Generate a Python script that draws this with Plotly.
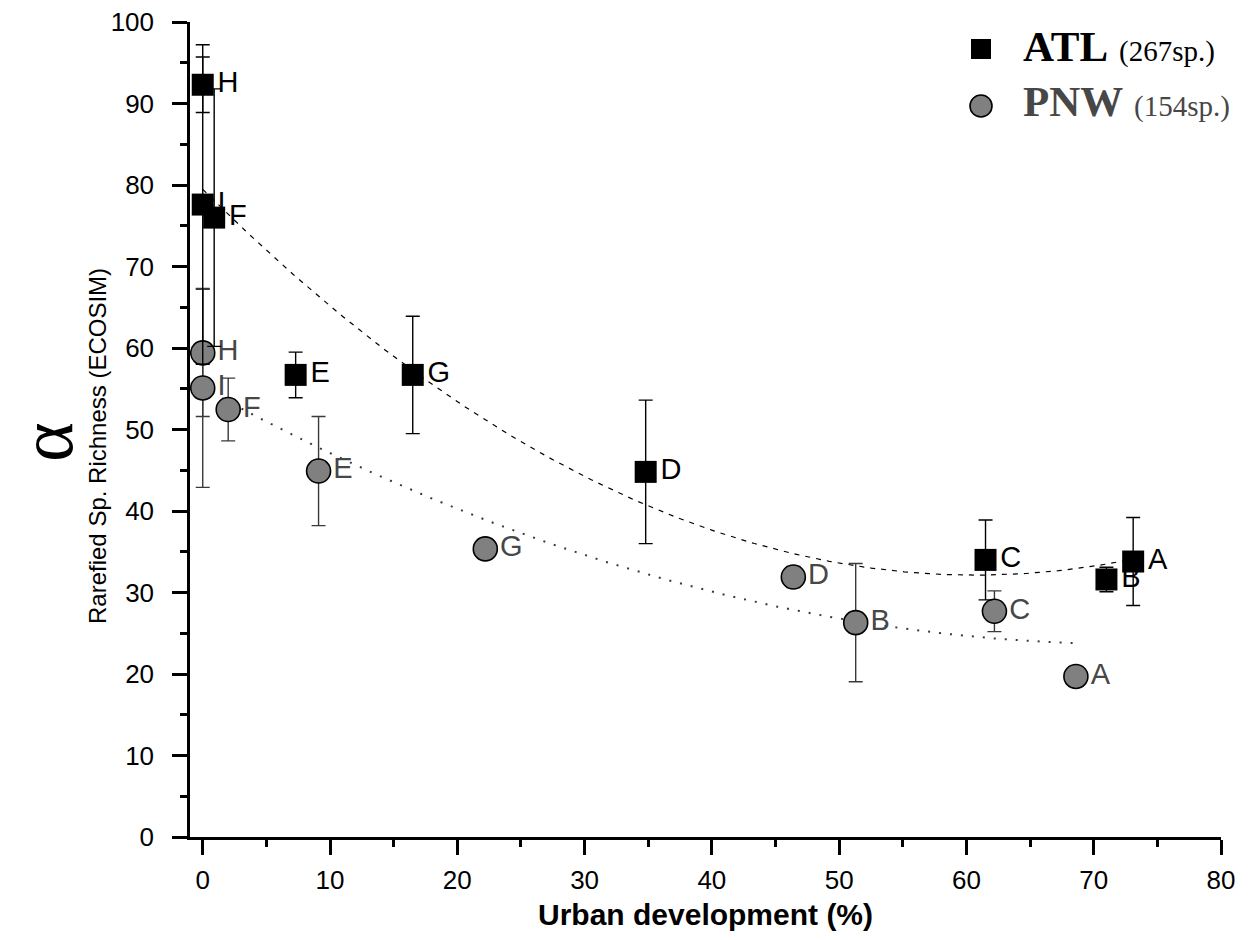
import numpy as np
import plotly.graph_objects as go

# ---------------- data ----------------
atl_labels = ["H", "I", "F", "E", "G", "D", "C", "B", "A"]
atl_x = [0.0, 0.0, 0.9, 7.3, 16.5, 34.8, 61.5, 71.0, 73.1]
atl_y = [92.3, 77.6, 76.0, 56.7, 56.7, 44.8, 34.0, 31.6, 33.8]
atl_err = [3.4, 19.6, 15.8, 2.8, 7.2, 8.8, 4.9, 1.5, 5.4]

pnw_labels = ["H", "I", "F", "E", "G", "D", "B", "C", "A"]
pnw_x = [0.0, 0.0, 2.0, 9.1, 22.2, 46.4, 51.3, 62.2, 68.6]
pnw_y = [59.4, 55.1, 52.45, 44.9, 35.35, 31.9, 26.3, 27.7, 19.7]
pnw_err = [7.8, 12.2, 3.85, 6.7, 0.6, 1.3, 7.25, 2.5, 0.5]

x_ticks = [0, 10, 20, 30, 40, 50, 60, 70, 80]
y_ticks = [0, 10, 20, 30, 40, 50, 60, 70, 80, 90, 100]

legend_names = ["ATL", "PNW"]
legend_counts = ["(267sp.)", "(154sp.)"]

ATL_COLOR = "#000000"
PNW_FILL = "#808080"
PNW_TEXT = "#474747"

# quadratic trend lines fitted from the data
def quad_fit(xs, ys):
    c = np.polyfit(xs, ys, 2)
    xx = np.linspace(min(xs), max(xs), 200)
    return xx, np.polyval(c, xx)

atl_fx, atl_fy = quad_fit(atl_x, atl_y)
pnw_fx, pnw_fy = quad_fit(pnw_x, pnw_y)

fig = go.Figure()

# trend lines
fig.add_trace(go.Scatter(x=atl_fx, y=atl_fy, mode="lines",
                         line=dict(color="#000000", width=1.2, dash="5px,6px"),
                         showlegend=False, hoverinfo="skip"))
fig.add_trace(go.Scatter(x=pnw_fx, y=pnw_fy, mode="lines",
                         line=dict(color="#3a3a3a", width=2, dash="2px,9px"),
                         showlegend=False, hoverinfo="skip"))

# point labels (drawn under the markers)
fig.add_trace(go.Scatter(x=atl_x, y=atl_y, mode="markers+text", text=atl_labels,
                         textposition="middle right",
                         textfont=dict(family="Liberation Sans", size=29, color=ATL_COLOR),
                         marker=dict(size=22, opacity=0),
                         showlegend=False, hoverinfo="skip"))
fig.add_trace(go.Scatter(x=pnw_x, y=pnw_y, mode="markers+text", text=pnw_labels,
                         textposition="middle right",
                         textfont=dict(family="Liberation Sans", size=29, color=PNW_TEXT),
                         marker=dict(size=22, opacity=0),
                         showlegend=False, hoverinfo="skip"))

# PNW points
fig.add_trace(go.Scatter(x=pnw_x, y=pnw_y, mode="markers", name="PNW",
                         marker=dict(symbol="circle", size=24, color=PNW_FILL,
                                     line=dict(color="#000000", width=1.6)),
                         error_y=dict(type="data", array=pnw_err, visible=True,
                                      color="#3a3a3a", thickness=1.4, width=7),
                         showlegend=False))
# ATL points
fig.add_trace(go.Scatter(x=atl_x, y=atl_y, mode="markers", name="ATL",
                         marker=dict(symbol="square", size=22, color=ATL_COLOR,
                                     line=dict(color="#000000", width=0)),
                         error_y=dict(type="data", array=atl_err, visible=True,
                                      color="#000000", thickness=1.4, width=7),
                         showlegend=False))

L, R, T, B = 190, 30, 22, 103
W, H = 1251, 940

axis_common = dict(showline=True, linecolor="#000000", linewidth=2.5,
                   ticks="outside", ticklen=15, tickwidth=2.5, tickcolor="#000000",
                   showgrid=False, zeroline=False, mirror=False, automargin=False,
                   tickfont=dict(family="Liberation Sans", size=26, color="#000000"))

fig.update_xaxes(range=[-1, 80], tickmode="array", tickvals=x_ticks,
                 ticktext=[str(v) for v in x_ticks],
                 minor=dict(ticks="outside", ticklen=7, tickwidth=2.5,
                            tickcolor="#000000", dtick=5, tick0=0),
                 ticklabelstandoff=3, **axis_common)
fig.update_yaxes(range=[0, 100], tickmode="array", tickvals=y_ticks,
                 ticktext=[str(v) for v in y_ticks],
                 minor=dict(ticks="outside", ticklen=7, tickwidth=2.5,
                            tickcolor="#000000", dtick=5, tick0=0),
                 ticklabelstandoff=13, **axis_common)

pw = W - L - R
ph = H - T - B
def px(xp):
    return (xp - L) / pw
def py(yp):
    return (H - B - yp) / ph

annotations = [
    dict(text="<b>Urban development (%)</b>", x=0.5, y=py(915), xref="paper", yref="paper",
         xanchor="center", yanchor="middle", showarrow=False,
         font=dict(family="Liberation Sans", size=30, color="#000000")),
    dict(text="Rarefied Sp. Richness (ECOSIM)", x=px(97), y=py(446), xref="paper", yref="paper",
         xanchor="center", yanchor="middle", showarrow=False, textangle=-90,
         font=dict(family="Liberation Sans", size=24, color="#000000")),
    dict(text="α", x=px(2), y=py(442), xref="paper", yref="paper",
         xanchor="left", yanchor="middle", showarrow=False, textangle=-90,
         font=dict(family="Liberation Serif", size=76, color="#000000")),
]
legend_colors = [ATL_COLOR, PNW_TEXT]
legend_rows = [46, 102]
for name, cnt, col, yy in zip(legend_names, legend_counts, legend_colors, legend_rows):
    annotations.append(dict(
        text=f"<b>{name}</b> <span style='font-size:29px'>{cnt}</span>",
        x=px(1021), y=py(yy), xref="paper", yref="paper", xanchor="left", yanchor="middle",
        showarrow=False, font=dict(family="Liberation Serif", size=43, color=col)))

shapes = [
    dict(type="rect", xref="paper", yref="paper", xsizemode="pixel", ysizemode="pixel",
         xanchor=px(981), yanchor=py(49), x0=-10, x1=10, y0=-10, y1=10,
         fillcolor=ATL_COLOR, line=dict(width=0)),
    dict(type="circle", xref="paper", yref="paper", xsizemode="pixel", ysizemode="pixel",
         xanchor=px(981), yanchor=py(106), x0=-11, x1=11, y0=-11, y1=11,
         fillcolor=PNW_FILL, line=dict(color="#000000", width=1.6)),
]

fig.update_layout(width=W, height=H, margin=dict(l=L, r=R, t=T, b=B),
                  plot_bgcolor="white", paper_bgcolor="white",
                  showlegend=False, annotations=annotations, shapes=shapes)

fig.write_html("out.html", config={"displayModeBar": False},
               post_script="document.body.style.margin='0';")
